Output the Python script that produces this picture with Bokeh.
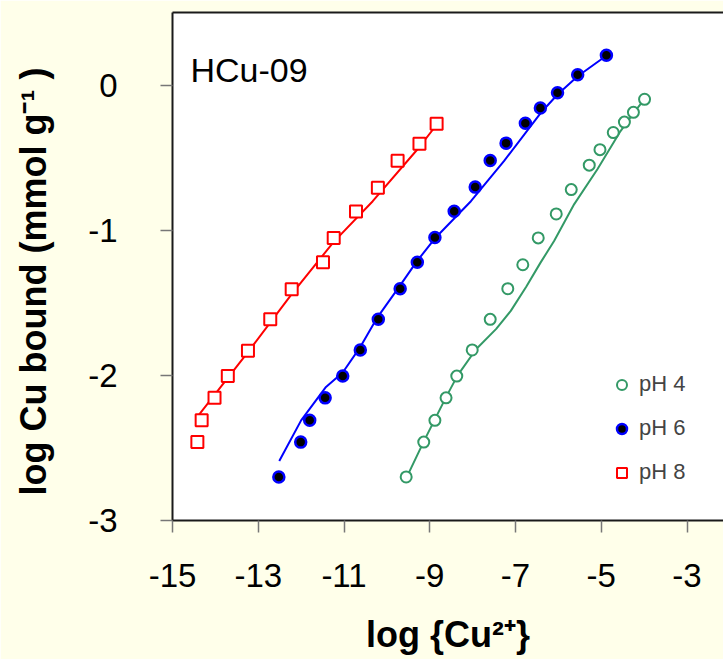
from bokeh.plotting import figure
from bokeh.models import (Label, Legend, LegendItem, LinearAxis, FixedTicker, Range1d)
from bokeh.embed import file_html
from bokeh.resources import INLINE

# ---- data ----
x_ph4 = [-9.55, -9.14, -8.88, -8.62, -8.37, -8.01, -7.59, -7.18, -6.83, -6.47,
         -6.05, -5.70, -5.28, -5.03, -4.72, -4.46, -4.25, -3.99]
y_ph4 = [-2.70, -2.46, -2.31, -2.155, -2.005, -1.825, -1.614, -1.403, -1.238, -1.053,
         -0.888, -0.720, -0.552, -0.445, -0.327, -0.255, -0.188, -0.098]

x_ph6 = [-12.52, -12.01, -11.80, -11.44, -11.03, -10.62, -10.20, -9.69, -9.29, -8.88,
         -8.43, -7.94, -7.59, -7.22, -6.77, -6.42, -6.02, -5.55, -4.88]
y_ph6 = [-2.70, -2.46, -2.31, -2.155, -2.005, -1.825, -1.614, -1.403, -1.221, -1.050,
         -0.870, -0.703, -0.520, -0.400, -0.263, -0.158, -0.053, 0.071, 0.206]

x_ph8 = [-14.42, -14.32, -14.02, -13.71, -13.24, -12.72, -12.22, -11.49, -11.24, -10.72,
         -10.21, -9.75, -9.24, -8.84]
y_ph8 = [-2.46, -2.31, -2.155, -2.005, -1.83, -1.614, -1.406, -1.221, -1.053, -0.871,
         -0.707, -0.522, -0.405, -0.267]

# model curves
xm_ph4 = [-9.55, -9.13, -8.62, -8.35, -7.92, -7.45, -7.11, -6.75, -6.42, -6.10, -5.63,
          -5.09, -4.55, -4.24, -4.00]
ym_ph4 = [-2.71, -2.45, -2.15, -2.00, -1.82, -1.68, -1.556, -1.39, -1.225, -1.074, -0.82,
          -0.58, -0.317, -0.19, -0.10]

xm_ph6 = [-12.51, -12.00, -11.42, -11.03, -10.61, -10.22, -9.69, -9.29, -8.86, -8.04,
          -7.27, -6.41, -6.02, -5.55, -4.90]
ym_ph6 = [-2.59, -2.31, -2.08, -1.98, -1.80, -1.60, -1.38, -1.21, -1.05, -0.80,
          -0.524, -0.191, -0.065, 0.061, 0.199]

xm_ph8 = [-14.38, -13.24, -12.22, -11.24, -10.33, -9.25, -8.83]
ym_ph8 = [-2.27, -1.84, -1.44, -1.08, -0.80, -0.43, -0.27]

x_ticks = [-15, -13, -11, -9, -7, -5, -3]
y_ticks = [-3, -2, -1, 0]

sample_name = "HCu-09"
legend_labels = ["pH 4", "pH 6", "pH 8"]
x_title = "log {Cu\u00b2\u207a}"
y_title = "log Cu bound (mmol g\u207b\u00b9 )" + "\u00a0" * 3

GREEN = "#339966"
BLUE = "#0000FF"
RED = "#FF0000"
BG = "#FFFFEA"
FONT = "Liberation Sans"

p = figure(width=723, height=659, output_backend="svg", toolbar_location=None,
           x_range=Range1d(-15, -2.149), y_range=Range1d(-3, 0.5),
           x_axis_type=None, y_axis_type=None,
           min_border_left=172, min_border_right=0, min_border_top=12, min_border_bottom=139)
p.border_fill_color = BG
p.background_fill_color = "white"
p.outline_line_color = None
p.xgrid.visible = False
p.ygrid.visible = False

def style_axis(ax, ticks):
    ax.ticker = FixedTicker(ticks=ticks)
    ax.major_label_overrides = {t: str(t) for t in ticks}
    ax.axis_line_color = "#1a1a1a"
    ax.axis_line_width = 2
    ax.major_tick_line_color = "#777777"
    ax.major_tick_line_width = 1.5
    ax.major_tick_out = 12
    ax.major_tick_in = 0
    ax.minor_tick_line_color = None
    ax.major_label_text_font = FONT
    ax.major_label_text_font_size = "33px"
    ax.major_label_text_color = "black"
    ax.axis_label_text_font = FONT
    ax.axis_label_text_font_size = "36px"
    ax.axis_label_text_font_style = "bold"
    ax.axis_label_text_color = "black"

xa = LinearAxis(axis_label=x_title)
style_axis(xa, x_ticks)
xa.major_label_standoff = 31
xa.axis_label_standoff = 24
p.add_layout(xa, "below")

ya = LinearAxis(axis_label=y_title)
style_axis(ya, y_ticks)
ya.major_label_standoff = 43
ya.major_label_orientation = "horizontal"
ya.axis_label_standoff = 31
p.add_layout(ya, "left")

ta = LinearAxis()
ta.ticker = FixedTicker(ticks=[])
ta.axis_line_color = "#1a1a1a"
ta.axis_line_width = 2
ta.major_tick_line_color = None
ta.minor_tick_line_color = None
ta.major_label_text_font_size = "0px"
p.add_layout(ta, "above")

# curves
p.line(xm_ph4, ym_ph4, line_color=GREEN, line_width=2)
p.line(xm_ph6, ym_ph6, line_color=BLUE, line_width=2)
p.line(xm_ph8, ym_ph8, line_color=RED, line_width=2)

r4 = p.scatter(x_ph4, y_ph4, marker="circle", size=11, fill_color="white",
               line_color=GREEN, line_width=2)
r6 = p.scatter(x_ph6, y_ph6, marker="circle", size=11, fill_color="black",
               line_color=BLUE, line_width=2.5)
r8 = p.scatter(x_ph8, y_ph8, marker="square", size=12, fill_color="white",
               line_color=RED, line_width=2)

legend = Legend(items=[LegendItem(label=legend_labels[0], renderers=[r4]),
                       LegendItem(label=legend_labels[1], renderers=[r6]),
                       LegendItem(label=legend_labels[2], renderers=[r8])],
                location=(437, 35), glyph_width=25, glyph_height=25,
                label_standoff=5, spacing=18, padding=10,
                label_text_font=FONT, label_text_font_size="22px",
                border_line_color=None, background_fill_alpha=0)
p.add_layout(legend, "center")

# sample name
p.add_layout(Label(x=18, y=451, x_units="screen", y_units="screen", text=sample_name,
                   text_font=FONT, text_font_size="34px", text_color="black",
                   text_baseline="alphabetic", text_align="left"))

open("out.html", "w").write(file_html(p, INLINE))
